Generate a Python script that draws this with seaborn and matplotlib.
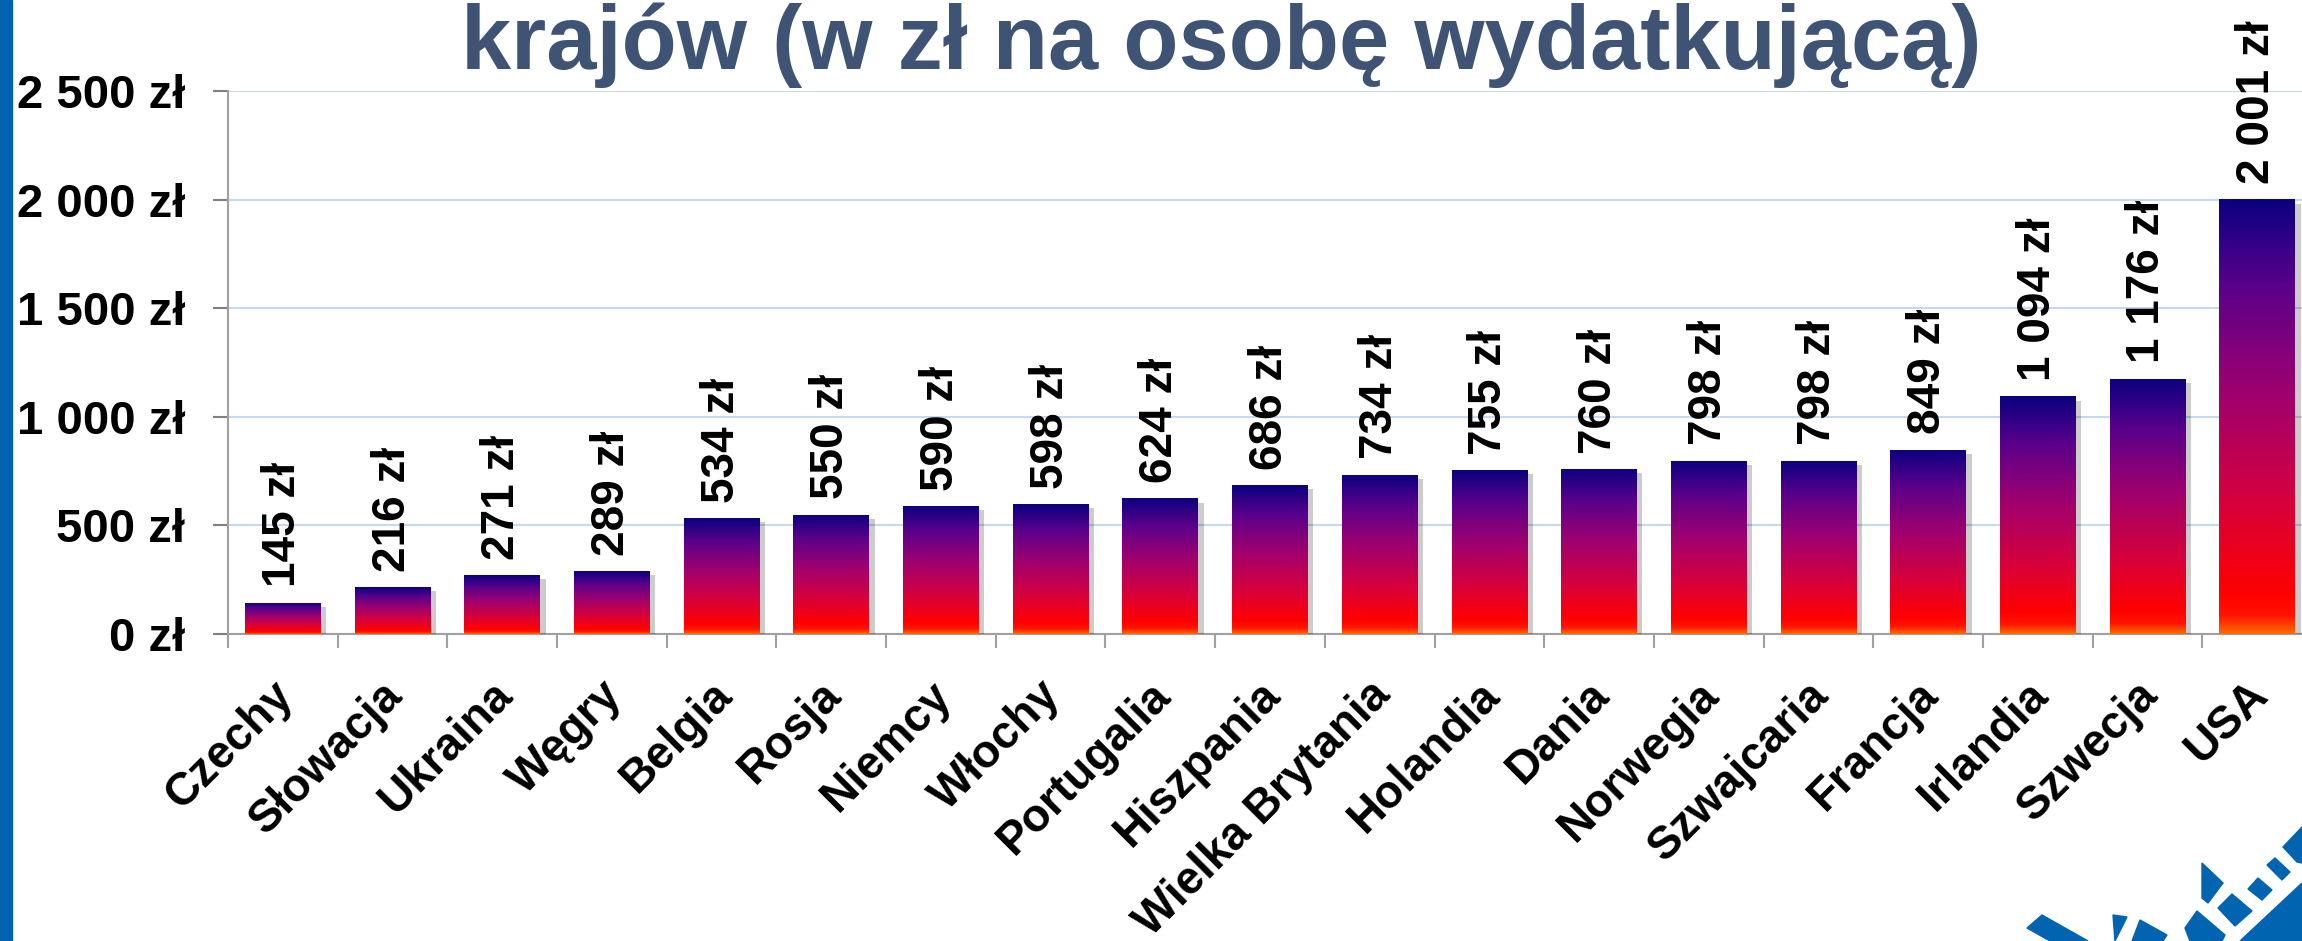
import numpy as np
import pandas as pd
import matplotlib
matplotlib.use("Agg")
import matplotlib.pyplot as plt
import seaborn as sns
from matplotlib.colors import LinearSegmentedColormap
from matplotlib.patches import Rectangle, Polygon
from matplotlib.transforms import ScaledTranslation
import matplotlib.patheffects as pe

# ---------------- data ----------------
countries = ["Czechy", "Słowacja", "Ukraina", "Węgry", "Belgia", "Rosja", "Niemcy",
             "Włochy", "Portugalia", "Hiszpania", "Wielka Brytania", "Holandia",
             "Dania", "Norwegia", "Szwajcaria", "Francja", "Irlandia", "Szwecja", "USA"]
values = [145, 216, 271, 289, 534, 550, 590, 598, 624, 686, 734, 755, 760, 798,
          798, 849, 1094, 1176, 2001]
y_ticks = [0, 500, 1000, 1500, 2000, 2500]
title_text = "krajów (w zł na osobę wydatkującą)"


def fmt(v):
    return f"{v:,}".replace(",", " ") + " zł"


sns.set_theme(style="white")
plt.rcParams['font.family'] = ['Liberation Sans', 'DejaVu Sans']

W, H = 2302, 941
fig = plt.figure(figsize=(W / 100, H / 100), dpi=100)
fig.patch.set_facecolor("white")

ax_l, ax_r = 228 / W, 2312 / W
ax_b, ax_t = (H - 634) / H, (H - 91) / H
ax = fig.add_axes([ax_l, ax_b, ax_r - ax_l, ax_t - ax_b])
ax.set_facecolor("none")

df = pd.DataFrame({"kraj": countries, "wartosc": values})
sns.barplot(data=df, x="kraj", y="wartosc", ax=ax, color="#000080",
            width=0.69, saturation=1, zorder=3, edgecolor="none")

cmap = LinearSegmentedColormap.from_list(
    "fire", [(0.0, "#FF6A00"), (0.04, "#FF1500"), (0.09, "#FF0000"),
             (0.3, "#D6003C"), (0.55, "#A0006E"), (0.8, "#5A008B"),
             (1.0, "#0A0080")])
grad = np.linspace(0, 1, 256).reshape(-1, 1)

for p in list(ax.patches):
    x0, w, h = p.get_x(), p.get_width(), p.get_height()
    p.set_path_effects([pe.SimplePatchShadow(offset=(4, -3), shadow_rgbFace="#000000", alpha=0.2),
                        pe.Normal()])
    im = ax.imshow(grad, extent=[x0, x0 + w, 0, h], origin="lower", aspect="auto",
                   cmap=cmap, zorder=3.5, interpolation="bilinear")
    im.set_clip_path(p)
    ax.annotate(fmt(int(round(h))), xy=(x0 + w / 2, h), xytext=(0, 11),
                textcoords="offset points", rotation=90, ha="center", va="bottom",
                fontsize=33, fontweight="bold", color="black", annotation_clip=False)

ax.set_xlim(-0.5, len(countries) - 0.5)
ax.set_ylim(0, 2500)
ax.set_xlabel("")
ax.set_ylabel("")

# grid & spines
ax.set_yticks(y_ticks)
ax.set_yticklabels([fmt(t) for t in y_ticks], fontsize=34, fontweight="bold")
ax.yaxis.grid(True, color="#C5D9F1", lw=1.5, zorder=0)
ax.xaxis.grid(False)
ax.set_axisbelow(True)
for s in ["top", "right"]:
    ax.spines[s].set_visible(False)
for s in ["left", "bottom"]:
    ax.spines[s].set_color("#A0A0A0")
    ax.spines[s].set_linewidth(1.5)

ax.tick_params(axis="y", which="major", left=True, length=10.8, width=1.5,
               color="#808080", pad=20, labelcolor="black")
ax.set_xticks(range(len(countries)))
ax.set_xticks(np.arange(-0.5, len(countries), 1.0), minor=True)
ax.tick_params(axis="x", which="major", length=0, pad=28, labelcolor="black")
ax.tick_params(axis="x", which="minor", bottom=True, length=10, width=1.5, color="#A0A0A0")
ax.set_xticklabels(countries, rotation=45, ha="right", va="top", rotation_mode="anchor",
                   fontsize=33, fontweight="bold", color="black")
shift = ScaledTranslation(-12 / 100, 0, fig.dpi_scale_trans)
for lab in ax.get_xticklabels():
    lab.set_transform(lab.get_transform() + shift)

# title (second line of the slide title)
fig.text(1221 / W, 1 - 69 / H, title_text, ha="center", va="baseline", fontsize=65,
         fontweight="bold", color="#3F5475")

# left blue band
fig.patches.append(Rectangle((0, 0), 12 / W, 1, transform=fig.transFigure,
                             color="#0064B1", zorder=0))

# decorative logo fragment in the bottom-right corner (pixel coords)
logo = [
    [(2302, 883), (2240, 941), (2302, 941)],
    [(2283, 847), (2302, 827), (2302, 863), (2297, 862)],
    [(2267, 865), (2275, 858), (2290, 872), (2282, 880)],
    [(2248, 889), (2258, 878), (2272, 890), (2262, 900)],
    [(2218, 908), (2232, 894), (2252, 911), (2235, 926)],
    [(2202, 863), (2223, 883), (2208, 903), (2202, 898)],
    [(2185, 928), (2197, 911), (2225, 935), (2222, 941), (2190, 941)],
    [(2140, 920), (2167, 935), (2163, 941), (2132, 941)],
    [(2113, 915), (2127, 917), (2115, 941)],
    [(2027, 928), (2042, 915), (2088, 941), (2050, 941)],
]
for poly in logo:
    pts = [(x / W, 1 - y / H) for x, y in poly]
    fig.patches.append(Polygon(pts, closed=True, transform=fig.transFigure,
                               color="#0064B1", zorder=0))

fig.savefig("out.png", dpi=100)
